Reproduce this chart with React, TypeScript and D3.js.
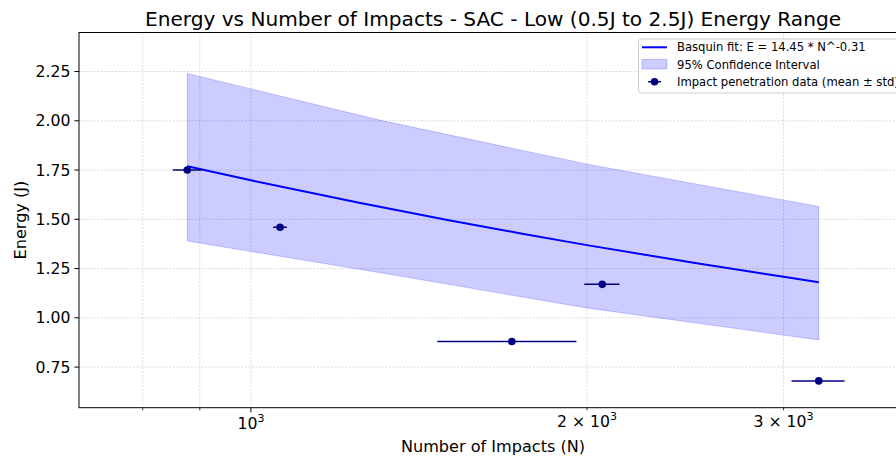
import React from "react";
import * as d3 from "d3";

// ---- data ----
const impactsMean = [877, 1062, 1713, 2064, 3226];
const impactsStd = [26, 15, 244, 75, 176];
const energyMean = [1.75, 1.46, 0.88, 1.17, 0.68];

const fitN = [877, 1000, 1250, 1500, 1750, 2000, 2500, 3000, 3226];
const fitE = [1.769, 1.698, 1.584, 1.497, 1.427, 1.369, 1.278, 1.208, 1.181];

const ciN = [877, 1312, 2000, 3226];
const ciUpper = [2.24, 2.0, 1.78, 1.565];
const ciLower = [1.39, 1.227, 1.05, 0.888];

const yTicks = [0.75, 1.0, 1.25, 1.5, 1.75, 2.0, 2.25];
const xMajorTicks = [1000];
const xMinorTicks = [800, 900, 2000, 3000, 4000];
const xMinorLabels: { [k: number]: string } = { 2000: "2", 3000: "3" };

const titleText = "Energy vs Number of Impacts - SAC - Low (0.5J to 2.5J) Energy Range";
const xLabelText = "Number of Impacts (N)";
const yLabelText = "Energy (J)";
const legendLabels = [
  "Basquin fit: E = 14.45 * N^-0.31",
  "95% Confidence Interval",
  "Impact penetration data (mean ± std)",
];

const W = 896;
const H = 457;
const L = 79;
const R = 907;
const T = 32.5;
const B = 407.7;
const FONT = "'DejaVu Sans', sans-serif";

export default function App() {
  const x = d3.scaleLog().domain([701.5, 3870]).range([L, R]);
  const y = d3.scaleLinear().domain([0.544, 2.448]).range([B, T]);

  const fitLine = d3
    .line<number>()
    .x((_, i) => x(fitN[i]))
    .y((d) => y(d))(fitE) as string;

  const band = d3
    .area<number>()
    .x((_, i) => x(ciN[i]))
    .y0((_, i) => y(ciLower[i]))
    .y1((d) => y(d))(ciUpper) as string;

  const gridStyle = { stroke: "#b0b0b0", strokeOpacity: 0.55, strokeWidth: 0.8, strokeDasharray: "2.2,1.4" };

  return (
    <svg
      width={W}
      height={H}
      style={{ position: "absolute", left: 0, top: 0, background: "#fff" }}
      fontFamily={FONT}
    >
      <defs>
        <clipPath id="plotclip">
          <rect x={L} y={T} width={R - L} height={B - T} />
        </clipPath>
      </defs>
      <rect x={0} y={0} width={W} height={H} fill="#fff" />

      {/* grid */}
      <g>
        {[...xMajorTicks, ...xMinorTicks].map((t) => (
          <line key={"gx" + t} x1={x(t)} x2={x(t)} y1={T} y2={B} {...gridStyle} />
        ))}
        {yTicks.map((t) => (
          <line key={"gy" + t} x1={L} x2={R} y1={y(t)} y2={y(t)} {...gridStyle} />
        ))}
      </g>

      <g clipPath="url(#plotclip)">
        {/* confidence band */}
        <path d={band} fill="blue" fillOpacity={0.2} stroke="blue" strokeOpacity={0.2} strokeWidth={1} />
        {/* fit line */}
        <path d={fitLine} fill="none" stroke="blue" strokeWidth={2} />
        {/* data with error bars */}
        {impactsMean.map((n, i) => (
          <g key={"pt" + i}>
            <line
              x1={x(n - impactsStd[i])}
              x2={x(n + impactsStd[i])}
              y1={y(energyMean[i])}
              y2={y(energyMean[i])}
              stroke="#000080"
              strokeWidth={1.5}
            />
            <circle cx={x(n)} cy={y(energyMean[i])} r={3.8} fill="#000080" />
          </g>
        ))}
      </g>

      {/* spines */}
      <rect x={L} y={T} width={R - L} height={B - T} fill="none" stroke="#000" strokeWidth={1} />

      {/* y ticks */}
      {yTicks.map((t) => (
        <g key={"yt" + t}>
          <line x1={L - 4.6} x2={L} y1={y(t)} y2={y(t)} stroke="#000" strokeWidth={1} />
          <text x={L - 8.5} y={y(t)} dy="0.36em" textAnchor="end" fontSize={15.7} fill="#000">
            {t.toFixed(2)}
          </text>
        </g>
      ))}

      {/* x ticks */}
      {xMajorTicks.map((t) => (
        <g key={"xM" + t}>
          <line x1={x(t)} x2={x(t)} y1={B} y2={B + 4.6} stroke="#000" strokeWidth={1} />
          <text x={x(t)} y={B + 21} textAnchor="middle" fontSize={15.7} fill="#000">
            10
            <tspan dy={-6.5} fontSize={11}>
              {String(Math.round(Math.log10(t)))}
            </tspan>
          </text>
        </g>
      ))}
      {xMinorTicks.map((t) => (
        <g key={"xm" + t}>
          <line x1={x(t)} x2={x(t)} y1={B} y2={B + 2.6} stroke="#000" strokeWidth={0.8} />
          {xMinorLabels[t] ? (
            <text x={x(t)} y={B + 19} textAnchor="middle" fontSize={15.7} fill="#000">
              {xMinorLabels[t] + " × 10"}
              <tspan dy={-6.5} fontSize={11}>
                3
              </tspan>
            </text>
          ) : null}
        </g>
      ))}

      {/* axis labels */}
      <text x={(L + R) / 2} y={452} textAnchor="middle" fontSize={16.1} fill="#000">
        {xLabelText}
      </text>
      <text
        transform={`translate(26, ${(T + B) / 2}) rotate(-90)`}
        textAnchor="middle"
        fontSize={16.1}
        fill="#000"
      >
        {yLabelText}
      </text>

      {/* title */}
      <text x={(L + R) / 2} y={26} textAnchor="middle" fontSize={20.1} fill="#000">
        {titleText}
      </text>

      {/* legend */}
      <g>
        <rect x={638.5} y={39} width={280} height={54} rx={3} fill="#fff" fillOpacity={0.8} stroke="#cccccc" strokeWidth={1} />
        <line x1={642} x2={667} y1={47.3} y2={47.3} stroke="blue" strokeWidth={2} />
        <rect x={642} y={59.5} width={25} height={9.5} fill="blue" fillOpacity={0.2} stroke="blue" strokeOpacity={0.2} />
        <line x1={648} x2={661} y1={81.7} y2={81.7} stroke="#000080" strokeWidth={1.5} />
        <circle cx={654.5} cy={81.7} r={3.8} fill="#000080" />
        {legendLabels.map((s, i) => (
          <text key={"lg" + i} x={677} y={47.3 + i * 17.2} dy="0.36em" fontSize={11.6} fill="#000">
            {s}
          </text>
        ))}
      </g>
    </svg>
  );
}
